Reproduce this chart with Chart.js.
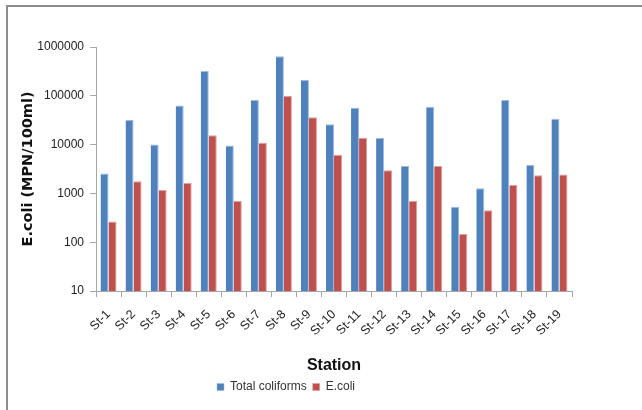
<!DOCTYPE html>
<html>
<head>
<meta charset="utf-8">
<script src="https://cdn.jsdelivr.net/npm/chart.js@4/dist/chart.umd.min.js"></script>
<style>
html,body{margin:0;padding:0;background:#fff;}
#wrap{width:642px;height:410px;position:relative;}
</style>
</head>
<body>
<div id="wrap"><canvas id="c" width="642" height="410"></canvas></div>
<script>
const stations = ["St-1","St-2","St-3","St-4","St-5","St-6","St-7","St-8","St-9","St-10","St-11","St-12","St-13","St-14","St-15","St-16","St-17","St-18","St-19"];
const totalColiforms = [2550,32300,10000,63500,321000,9600,81600,644000,214000,26200,56900,13800,3660,59600,530,1270,81600,3840,33800];
const eColi = [265,1780,1180,1640,15600,700,10900,100400,36500,6170,13800,2990,700,3660,147,450,1490,2360,2430];
const yTicks = [10,100,1000,10000,100000,1000000];

const sans = "'Liberation Sans', Arial, sans-serif";

const framePlugin = {
  id: 'frame',
  beforeDraw(chart) {
    const ctx = chart.ctx;
    ctx.save();
    ctx.fillStyle = '#fff';
    ctx.fillRect(0, 0, chart.width, chart.height);
    ctx.strokeStyle = '#8c8c8c';
    ctx.lineWidth = 2;
    ctx.beginPath();
    ctx.moveTo(7, 410);
    ctx.lineTo(7, 6);
    ctx.lineTo(642, 6);
    ctx.stroke();
    ctx.restore();
  }
};

new Chart(document.getElementById('c'), {
  type: 'bar',
  data: {
    labels: stations,
    datasets: [
      { label: 'Total coliforms', data: totalColiforms, backgroundColor: '#4F81BD', borderColor: '#9DB9DE', borderWidth: { top: 1, right: 1, left: 0, bottom: 0 }, categoryPercentage: 0.64, barPercentage: 1.0 },
      { label: 'E.coli', data: eColi, backgroundColor: '#C0504D', borderColor: '#DDA09E', borderWidth: { top: 1, right: 1, left: 0, bottom: 0 }, categoryPercentage: 0.64, barPercentage: 1.0 }
    ]
  },
  options: {
    responsive: false,
    animation: false,
    devicePixelRatio: 1,
    layout: { padding: { top: 47, right: 70, bottom: 7, left: 0 } },
    plugins: {
      legend: {
        position: 'bottom',
        labels: {
          boxWidth: 7, boxHeight: 7, padding: 6,
          color: '#333',
          font: { family: sans, size: 12 }
        }
      },
      tooltip: { enabled: false }
    },
    scales: {
      x: {
        afterFit(axis) { axis.height = 84; },
        grid: { offset: true, drawOnChartArea: false, color: '#a6a6a6', tickLength: 6, lineWidth: 1 },
        border: { color: '#a6a6a6' },
        ticks: { autoSkip: false, minRotation: 45, maxRotation: 45, color: '#222', padding: 10, font: { family: sans, size: 12.5 } },
        title: { display: true, text: 'Station', color: '#111', padding: { top: 0, bottom: 0 }, font: { family: sans, size: 16, weight: 'bold' } }
      },
      y: {
        type: 'logarithmic',
        min: 10, max: 1000000,
        afterFit(axis) { axis.width = 96; },
        afterBuildTicks(axis) { axis.ticks = yTicks.map(v => ({ value: v })); },
        grid: { drawOnChartArea: false, color: '#a6a6a6', tickLength: 6 },
        border: { color: '#a6a6a6' },
        ticks: { color: '#222', padding: 6, font: { family: sans, size: 12 }, callback: v => String(v) },
        title: { display: true, text: 'E.coli (MPN/100ml)', color: '#111', padding: { top: 20, bottom: 0 }, font: { family: "'DejaVu Sans', Verdana, sans-serif", size: 14.5, weight: 'bold' } }
      }
    }
  },
  plugins: [framePlugin]
});
</script>
</body>
</html>
